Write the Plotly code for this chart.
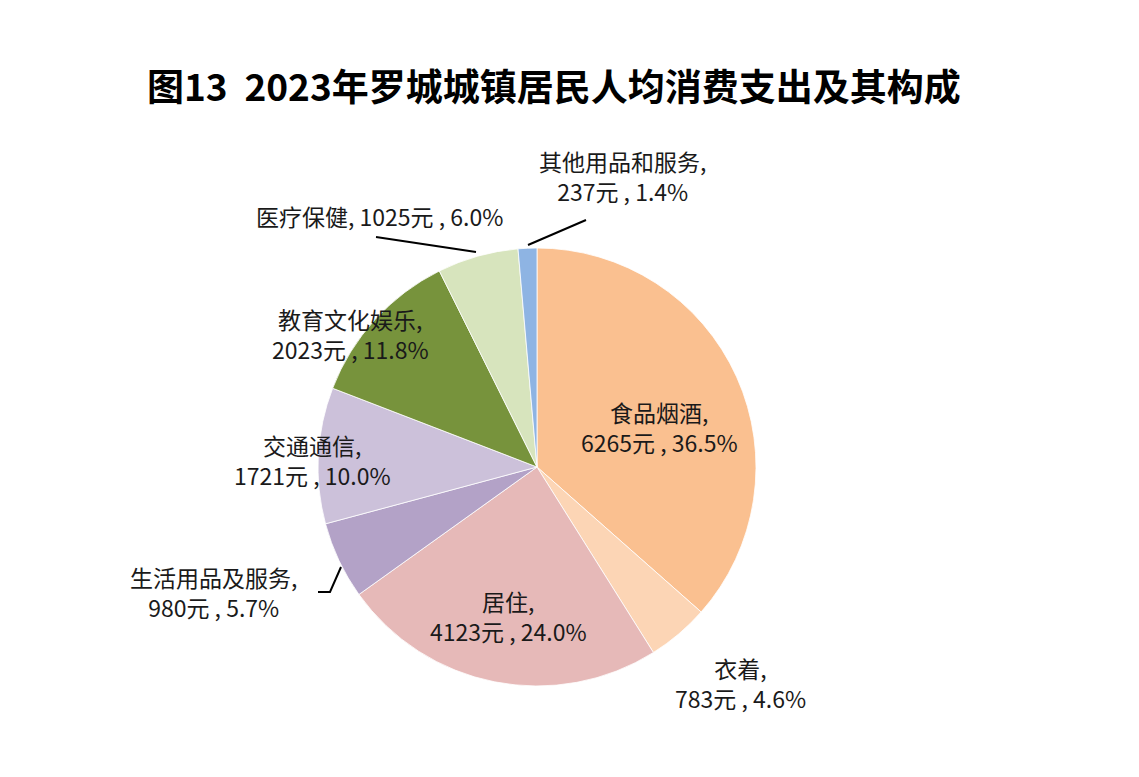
import plotly.graph_objects as go

# categorie e valori (yuan pro capite), in ordine orario da ore 12
categorie = ["食品烟酒", "衣着", "居住", "生活用品及服务",
             "交通通信", "教育文化娱乐", "医疗保健", "其他用品和服务"]
valori = [6265, 783, 4123, 980, 1721, 2023, 1025, 237]
colori = ["#FAC090", "#FCD5B5", "#E6B9B8", "#B3A2C7",
          "#CCC1DA", "#77933C", "#D7E4BD", "#8EB4E3"]

W, H = 1139, 777
OFF = 8                         # margine del body della pagina html [px]
CX, CY, R = 537, 467, 219       # centro e raggio della torta [px]

# posizione delle etichette (px, centro testo) e modo di andare a capo
pos_lab = [(659, 427), (740, 683), (508, 616), (213, 592),
           (312, 460), (350, 334), (379, 216), (622, 176)]
una_riga = [False, False, False, False, False, False, True, False]


def px(x, y):
    return (x - OFF) / W, (H - (y - OFF)) / H


tot = sum(valori)
x0, y1 = px(CX - R, CY - R)
x1, y0 = px(CX + R, CY + R)
fig = go.Figure(go.Pie(
    labels=categorie, values=valori, sort=False, direction="clockwise",
    marker=dict(colors=colori, line=dict(color="white", width=0.8)),
    textinfo="none", hoverinfo="label+value+percent", showlegend=False,
    domain=dict(x=[x0, x1], y=[y0, y1])))

FONT = "Liberation Sans Narrow, Noto Sans CJK SC, sans-serif"
for c, v, (x, y), one in zip(categorie, valori, pos_lab, una_riga):
    sep = " " if one else "<br>"
    txt = f"{c},{sep}{v}元 , {v / tot * 100:.1f}%"
    xx, yy = px(x, y)
    fig.add_annotation(x=xx, y=yy, xref="paper", yref="paper", text=txt,
                       showarrow=False, align="center",
                       xanchor="center", yanchor="middle",
                       font=dict(family=FONT, size=23, color="#1a1a1a"))

# linee guida delle etichette esterne
linee = [[(376, 237), (476, 252)],
         [(528, 245), (586, 220)],
         [(318, 592), (330, 592), (341, 567)]]
for ln in linee:
    pts = [px(*p) for p in ln]
    path = "M " + " L ".join(f"{a},{b}" for a, b in pts)
    fig.add_shape(type="path", path=path, xref="paper", yref="paper",
                  line=dict(color="black", width=2))

tx, ty = px(554, 85)
fig.add_annotation(x=tx, y=ty, xref="paper", yref="paper",
                   text="<b>图13  2023年罗城城镇居民人均消费支出及其构成</b>",
                   showarrow=False, xanchor="center", yanchor="middle",
                   font=dict(family="Noto Sans CJK SC, sans-serif", size=37,
                             color="black"))

fig.update_layout(width=W, height=H, margin=dict(l=0, r=0, t=0, b=0),
                  paper_bgcolor="white", plot_bgcolor="white")
fig.write_html("out.html")
